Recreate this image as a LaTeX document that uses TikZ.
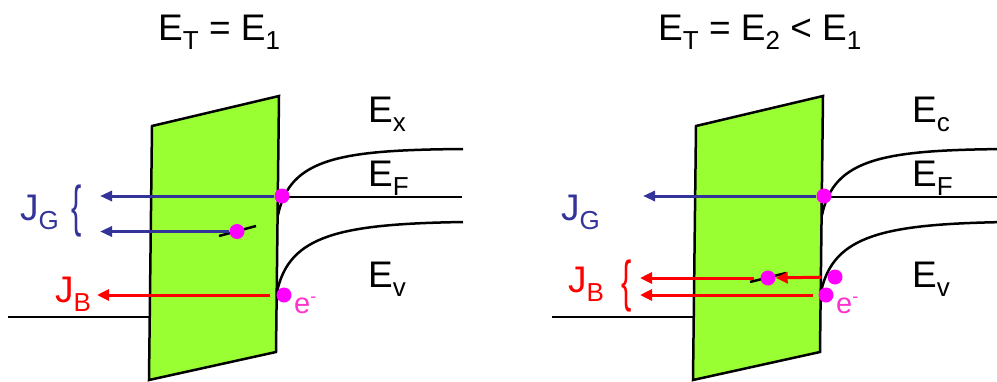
\documentclass[tikz,border=0pt]{standalone}
\usepackage{fontspec}
\setmainfont{Liberation Sans}
\usetikzlibrary{arrows.meta}
\definecolor{oxgreen}{RGB}{153,255,51}
\definecolor{jgblue}{RGB}{51,51,153}
\definecolor{dotmag}{RGB}{255,0,255}
\definecolor{epink}{RGB}{255,51,204}
\newcommand{\lsub}[1]{\raisebox{-9pt}{\fontsize{26}{26}\selectfont #1}}
\newcommand{\echarge}{e\raisebox{11pt}{\fontsize{18}{18}\selectfont -}}
\newcommand{\thinbrace}{\scalebox{0.55}[1]{\{}}

\begin{document}
\begin{tikzpicture}[x=1pt, y=-1pt,
    jg/.style={-{Triangle[length=12pt,width=10pt]}, line width=3pt, jgblue},
    jb/.style={-{Triangle[length=12pt,width=11pt]}, line width=3pt, red},
    dot/.style={circle, fill=dotmag, inner sep=0pt, minimum size=15pt},
    lbl/.style={anchor=base west, inner sep=0pt, font=\fontsize{37}{40}\selectfont},
    brace/.style={inner sep=0pt, font=\fontsize{56}{56}\selectfont}]
    % 1. Giới hạn vùng hiển thị
    \useasboundingbox (0,0) rectangle (997,381);
    \clip (0,0) rectangle (997,381);

    % 2. Lớp oxit, mức năng lượng và nhãn (hai hình giống nhau)
    \foreach \dx/\c in {0/x, 544/c} {
      \begin{scope}[xshift=\dx]
        \draw[line width=2pt] (8,317) -- (150,317);
        \draw[line width=2.5pt, fill=oxgreen]
            (152,126) -- (279,96) -- (276,352) -- (149,380) -- cycle;
        \draw[line width=2.5pt] (278,215) .. controls (290,158) and (340,150) .. (463,149);
        \draw[line width=2.5pt] (279,197) -- (462,197);
        \draw[line width=2.5pt] (277,292) .. controls (289,235) and (340,224) .. (463,222);
        \node[lbl] (ec\dx) at (368,122) {E\lsub{\c}};
        \node[lbl] (ef\dx) at (368,186) {E\lsub{F}};
        \node[lbl] (ev\dx) at (368,287) {E\lsub{v}};
      \end{scope}
    }

    % 3. Tiêu đề
    \node[lbl] (tL) at (158,40) {E\lsub{T} = E\lsub{1}};
    \node[lbl] (tR) at (658,40) {E\lsub{T} = E\lsub{2} < E\lsub{1}};

    % 4. Hình trái: E_T = E_1
    \draw[line width=2.5pt] (219,236) -- (256,226);
    \node[dot] (fL) at (282,196) {};
    \node[dot] (tpL) at (237,231.5) {};
    \node[dot] (hL) at (284,295) {};
    \coordinate (gL1) at (100,196);
    \coordinate (gL2) at (100,231.5);
    \coordinate (bL) at (97,295);
    \draw[jg] (fL) -- (gL1);
    \draw[jg] (tpL) -- (gL2);
    \draw[jb, shorten <=6pt] (hL) -- (bL);
    \node[lbl, jgblue] (jgL) at (20,220) {J\lsub{G}};
    \node[brace, jgblue] (brL) at (77,211) {\thinbrace};
    \node[lbl, red] (jbL) at (55,302) {J\lsub{B}};
    \node[lbl, epink, font=\fontsize{29}{30}\selectfont] (eL) at (294,313) {\echarge};

    % 5. Hình phải: E_T = E_2 < E_1
    \draw[line width=2.5pt] (750,282) -- (786,273);
    \node[dot] (fR) at (824,196) {};
    \node[dot] (tpR) at (768,278) {};
    \node[dot] (hR1) at (835,277) {};
    \node[dot] (hR2) at (826,295) {};
    \coordinate (gR) at (643,196);
    \coordinate (bR1) at (640,278);
    \coordinate (bR2) at (640,295);
    \draw[jg] (fR) -- (gR);
    \draw[jb, shorten <=6pt] (hR1) -- (tpR);
    \draw[jb, shorten <=6pt] (tpR) -- (bR1);
    \draw[jb, shorten <=5pt] (hR2) -- (bR2);
    \node[lbl, jgblue] (jgR) at (561,220) {J\lsub{G}};
    \node[lbl, red] (jbR) at (568,292) {J\lsub{B}};
    \node[brace, red] (brR) at (627,286) {\thinbrace};
    \node[lbl, epink, font=\fontsize{29}{30}\selectfont] (eR) at (836,313) {\echarge};
\end{tikzpicture}
\end{document}
